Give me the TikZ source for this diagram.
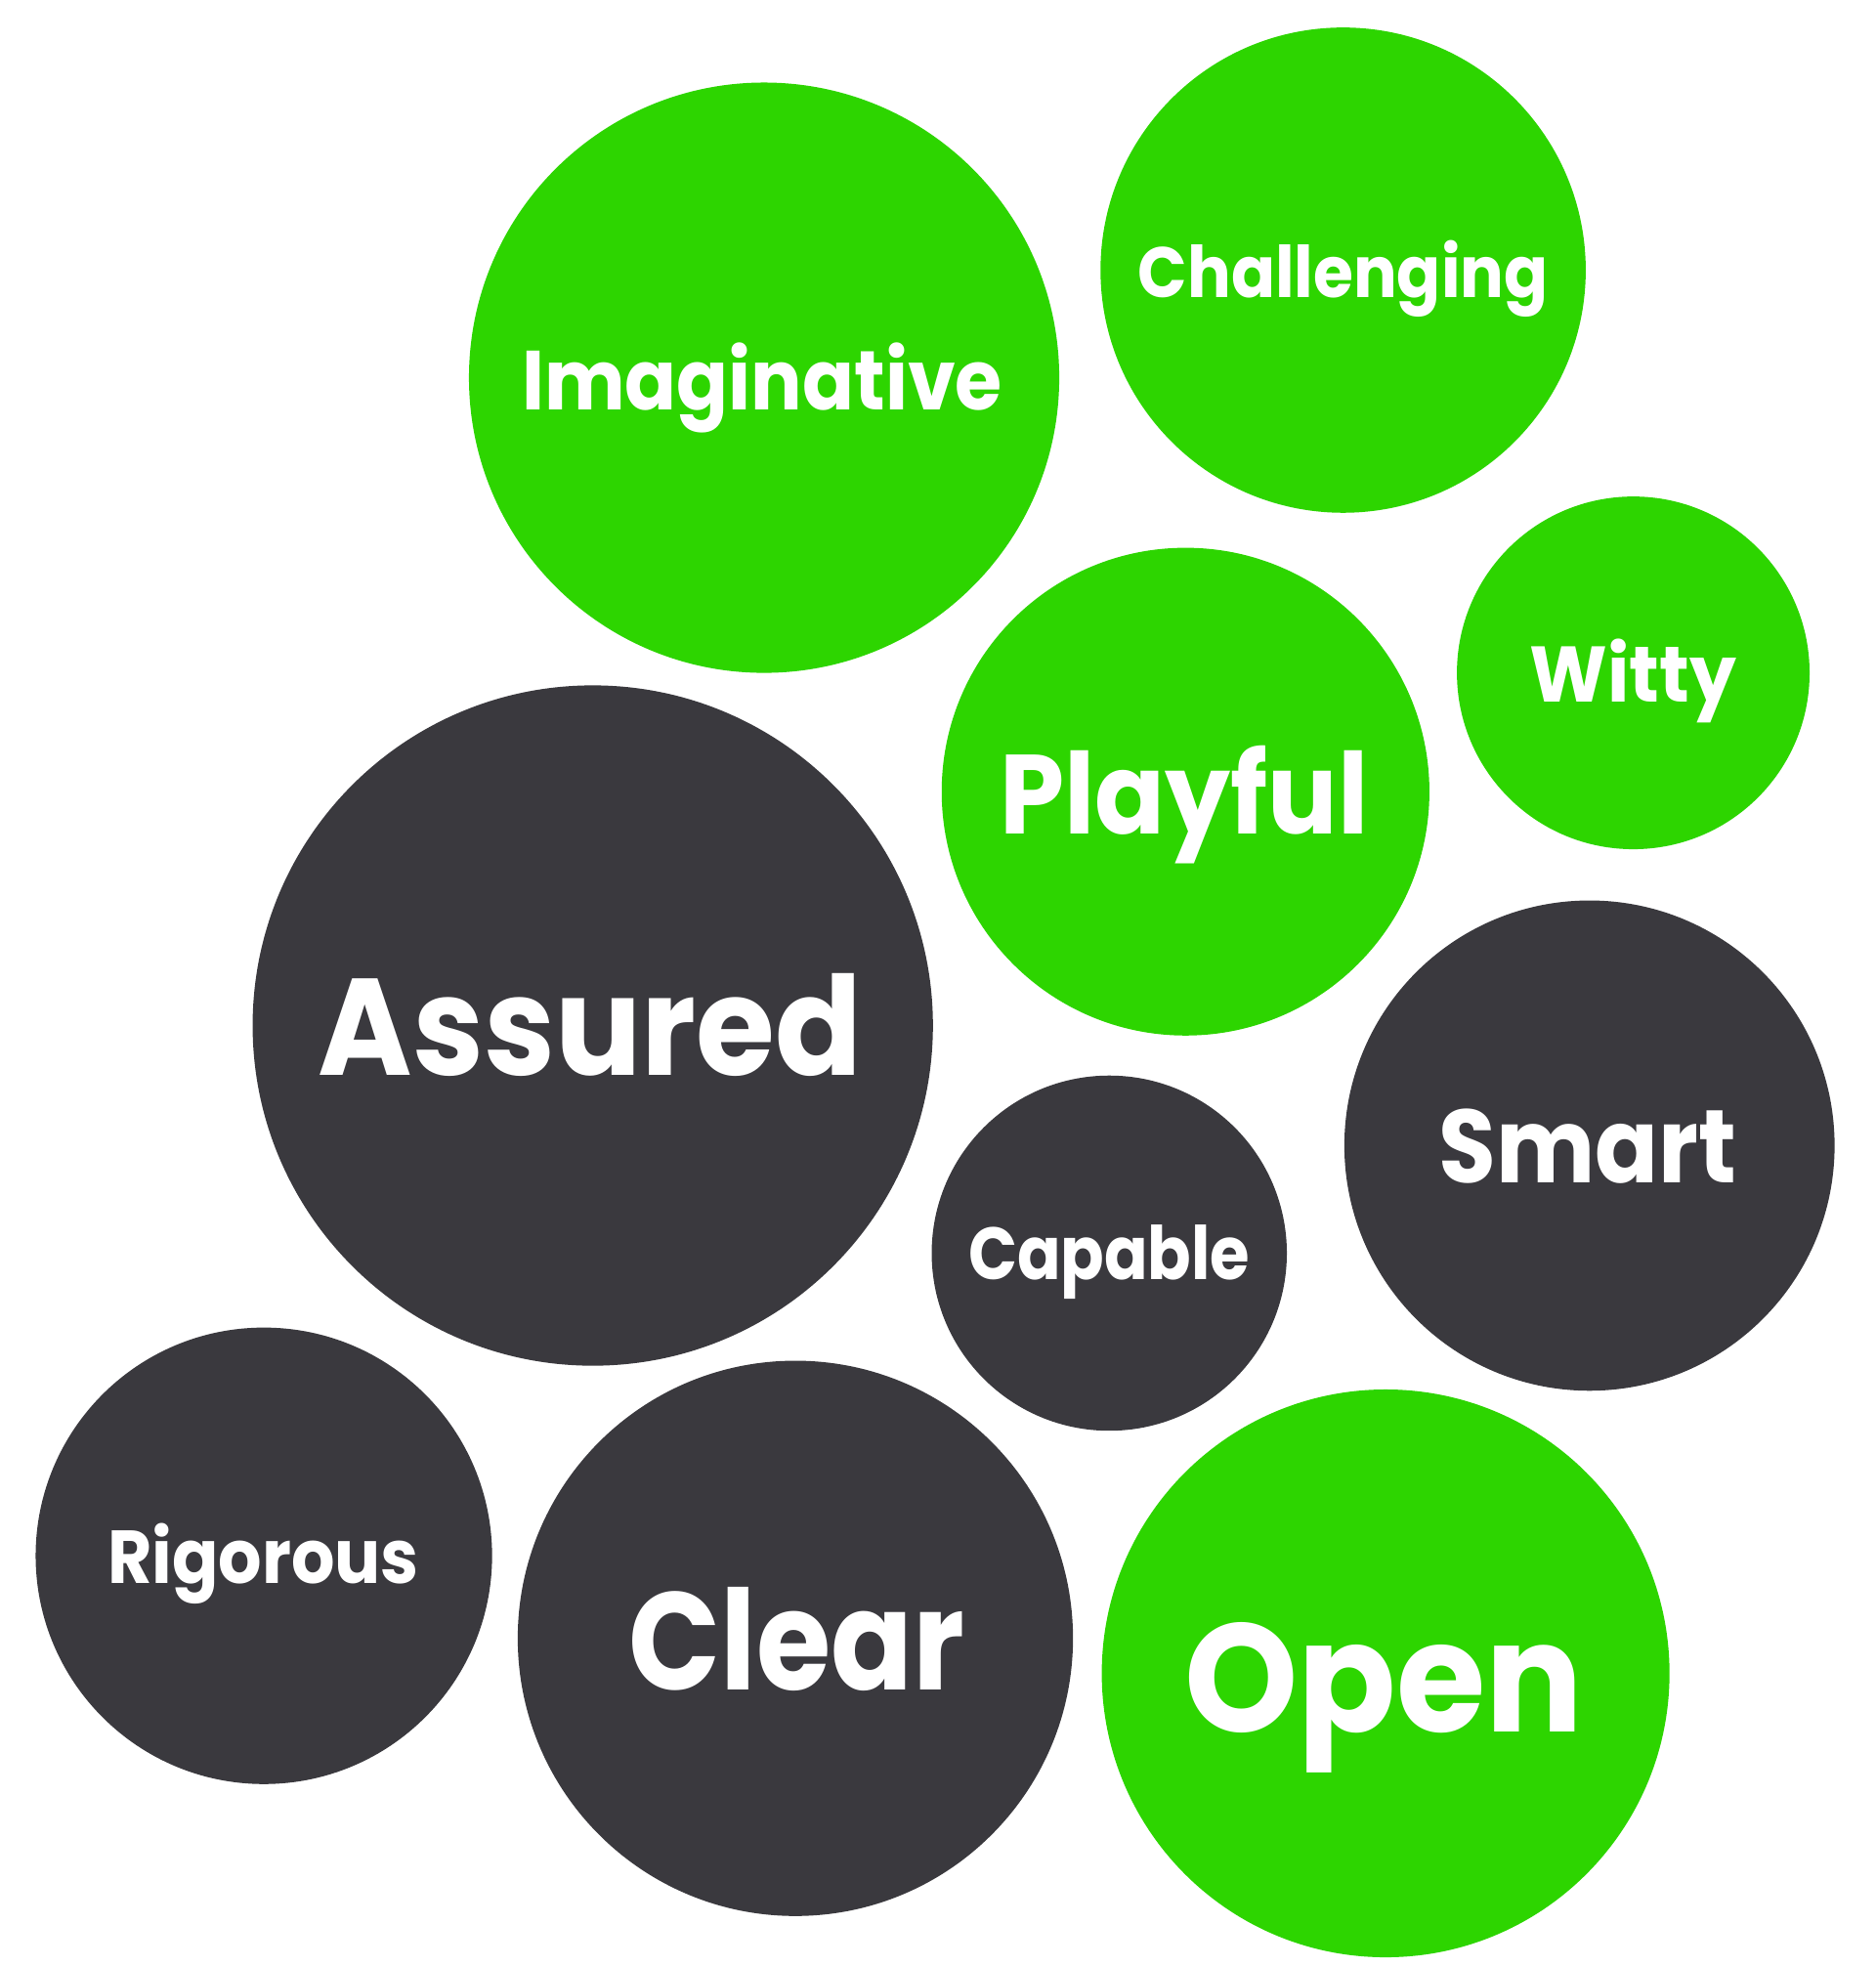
\documentclass[tikz,border=0pt]{standalone}
\usepackage{fontspec}
\usepackage{graphicx}
\setmainfont{Poppins}
\definecolor{bgreen}{HTML}{2DD500}
\definecolor{bdark}{HTML}{3A393E}
\newcommand\hsqz[2]{\scalebox{#1}[1]{#2}}
\begin{document}
\begin{tikzpicture}[x=1pt,y=-1pt,
  bubble/.style={circle,inner sep=0pt,outer sep=0pt,minimum size=#1},
  gbub/.style={bubble=#1,fill=bgreen},
  dbub/.style={bubble=#1,fill=bdark},
  word/.style={text=white,anchor=base,inner sep=0pt,font=\bfseries\fontsize{#1}{#1}\selectfont}]
\useasboundingbox (0,0) rectangle (1500,1572);
% bubbles
\node[gbub=472] (imag) at (611,302) {};
\node[gbub=388] (chal) at (1074,216) {};
\node[gbub=282] (witt) at (1306,538) {};
\node[gbub=390] (play) at (948,633) {};
\node[dbub=544] (assu) at (474,820) {};
\node[dbub=392] (smar) at (1271,916) {};
\node[dbub=284] (capa) at (887,1002) {};
\node[dbub=365] (rigo) at (211,1244) {};
\node[dbub=444] (clea) at (636,1310) {};
\node[gbub=454] (open) at (1108,1338) {};
% words
\node[word=67] (imagT) at (609.5,328) {\hsqz{0.91}{Imaginative}};
\node[word=57] (chalT) at (1074,238) {\hsqz{0.91}{Challenging}};
\node[word=63] (wittT) at (1306,561) {\hsqz{0.94}{Witty}};
\node[word=90] (playT) at (947,667) {\hsqz{0.92}{Playful}};
\node[word=110] (assuT) at (472,860) {\hsqz{0.93}{Assured}};
\node[word=83] (smarT) at (1269.5,946) {\hsqz{0.90}{Smart}};
\node[word=59] (capaT) at (887,1023) {\hsqz{0.87}{Capable}};
\node[word=60] (rigoT) at (210.5,1266) {\hsqz{0.91}{Rigorous}};
\node[word=111] (cleaT) at (637,1351) {\hsqz{0.87}{Clear}};
\node[word=123] (openT) at (1106.5,1385) {\hsqz{0.94}{Open}};
\end{tikzpicture}
\end{document}
